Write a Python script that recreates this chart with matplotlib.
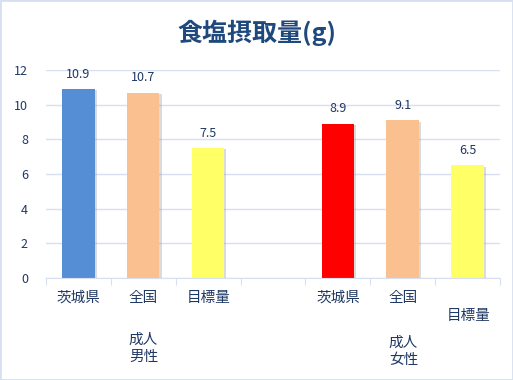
import matplotlib.pyplot as plt
import matplotlib.patheffects as pe

plt.rcParams['font.family'] = ['Noto Sans CJK JP', 'DejaVu Sans']

cats = ['茨城県', '全国', '目標量', '', '茨城県', '全国', '目標量']
vals = [10.9, 10.7, 7.5, None, 8.9, 9.1, 6.5]
cols = ['#558ED5', '#FAC090', '#FFFF66', None, '#FF0000', '#FAC090', '#FFFF66']
groups = ['成人\n男性', '成人\n女性']
group_pos = [1, 5]

txt = '#1F3864'
grid = '#D6E0F0'

fig = plt.figure(figsize=(5.13, 3.80), dpi=100)
ax = fig.add_axes([46/513, (380-278)/380, (500-46)/513, (278-70)/380])

shadow = [pe.SimplePatchShadow(offset=(1.5, -1), shadow_rgbFace='#999999', alpha=0.35), pe.Normal()]
for i, (v, c) in enumerate(zip(vals, cols)):
    if v is None:
        continue
    b = ax.bar(i, v, width=0.5, color=c, zorder=3)
    b[0].set_path_effects(shadow)
    ax.annotate(f'{v}', (i, v), xytext=(0, 6), textcoords='offset points',
                ha='center', va='bottom', fontsize=9, color=txt)

ax.set_xlim(-0.5, 6.5)
ax.set_ylim(0, 12)
ax.set_yticks(range(0, 13, 2))
ax.yaxis.grid(True, color=grid, lw=1, zorder=0)
ax.tick_params(axis='y', length=0, labelsize=9, labelcolor=txt, pad=13)
for s in ['top', 'right', 'left']:
    ax.spines[s].set_visible(False)
ax.spines['bottom'].set_color(grid)
ax.spines['bottom'].set_zorder(4)

ax.set_xticks([x - 0.5 for x in range(8)])
ax.set_xticklabels([])
ax.tick_params(axis='x', length=5, color=grid, direction='out')

for i, c in enumerate(cats):
    y = 298 if i != 6 else 316
    fig.text((46 + 65 * (i + 0.5)) / 513, 1 - y / 380, c, ha='center', va='center',
             fontsize=10.5, color=txt)
for g, p, y in zip(groups, group_pos, [348, 351]):
    fig.text((46 + 65 * (p + 0.5)) / 513, 1 - y / 380, g, ha='center', va='center',
             fontsize=10.5, color=txt, linespacing=1.3)

fig.text(0.5, 1 - 33 / 380, '食塩摂取量(g)', ha='center', va='center',
         fontsize=18, fontweight='bold', color='#1F497D')

fig.patches.append(plt.Rectangle((0, 0), 1, 1, transform=fig.transFigure,
                                 fill=False, edgecolor='#D6E0F0', lw=2))

fig.savefig('out.png', dpi=100)
